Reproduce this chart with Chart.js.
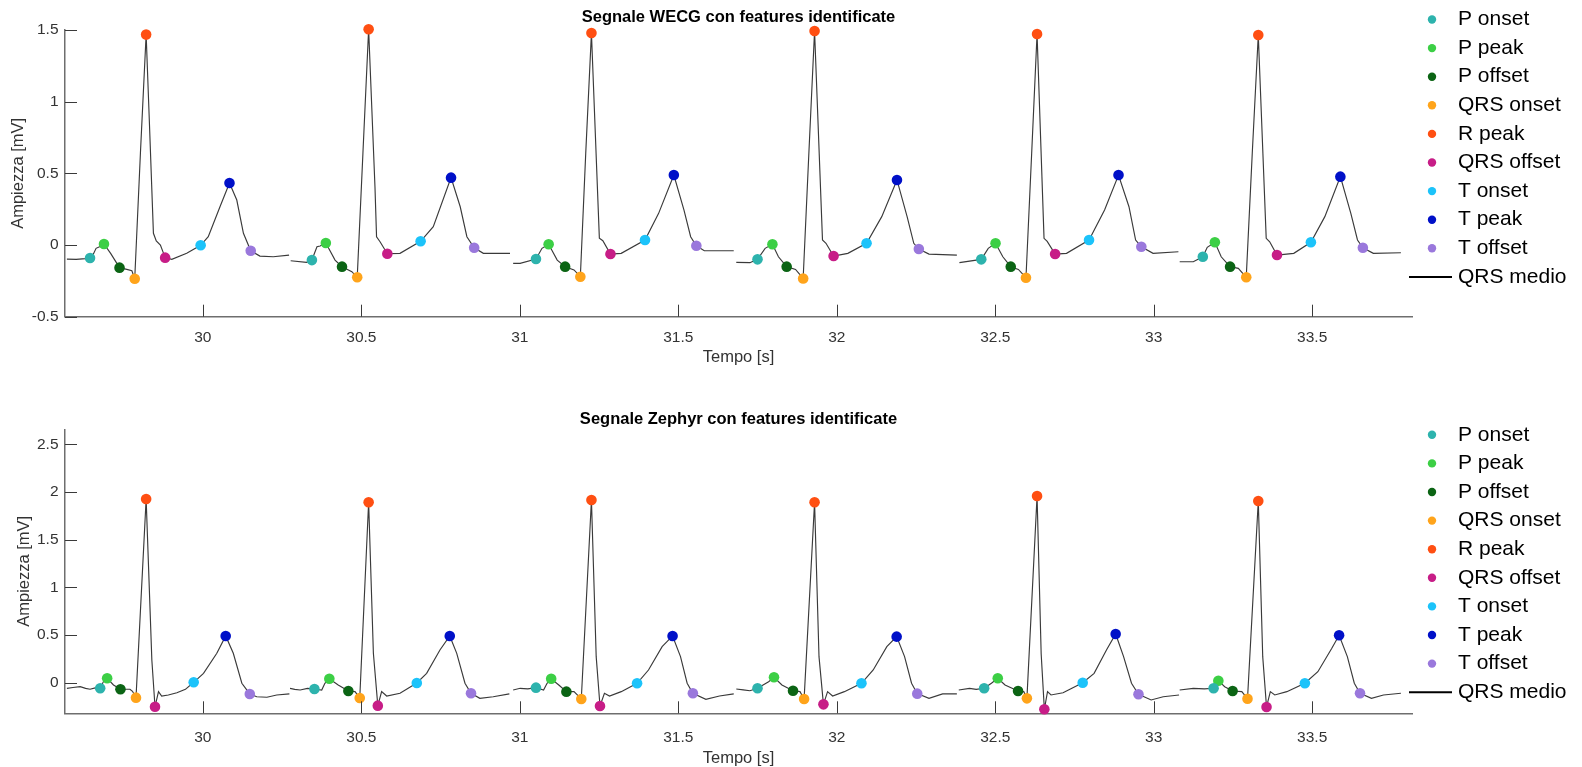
<!DOCTYPE html>
<html><head><meta charset="utf-8">
<script src="https://cdn.jsdelivr.net/npm/chart.js@4.4.1/dist/chart.umd.min.js"></script>
<style>
html,body{margin:0;padding:0;background:#fff;overflow:hidden;width:1582px;height:767px;}
#c1{position:absolute;left:0;top:0;}
#c2{position:absolute;left:0;top:380px;}
</style></head><body>
<canvas id="c1" width="1582" height="380"></canvas>
<canvas id="c2" width="1582" height="387"></canvas>
<script>
// ---------- axis ticks ----------
const xTickValues = [30, 30.5, 31, 31.5, 32, 32.5, 33, 33.5];
const xTickLabels = ['30', '30.5', '31', '31.5', '32', '32.5', '33', '33.5'];
const wecgYTickValues = [-0.5, 0, 0.5, 1, 1.5];
const wecgYTickLabels = ['-0.5', '0', '0.5', '1', '1.5'];
const zephyrYTickValues = [0, 0.5, 1, 1.5, 2, 2.5];
const zephyrYTickLabels = ['0', '0.5', '1', '1.5', '2', '2.5'];

const featureLabels = ['P onset', 'P peak', 'P offset', 'QRS onset', 'R peak', 'QRS offset', 'T onset', 'T peak', 'T offset'];
const featureColors = ['#2db3ad', '#3ccf45', '#0b6414', '#ffa41b', '#ff4f12', '#c71d87', '#1cc3fa', '#0010c8', '#9a78dc'];
const lineLabel = 'QRS medio';

// ---------- WECG: QRS medio segments [t, mV] ----------
const wecgBeat1 = [[29.571,-0.098],[29.600,-0.100],[29.630,-0.095],[29.644,-0.091],[29.655,-0.060],[29.663,-0.023],[29.674,-0.012],[29.688,0.007],[29.709,-0.058],[29.737,-0.158],[29.760,-0.170],[29.776,-0.179],[29.785,-0.235],[29.803,0.642],[29.821,1.468],[29.831,0.872],[29.844,0.082],[29.853,0.028],[29.866,0.000],[29.881,-0.088],[29.902,-0.100],[29.949,-0.058],[29.993,-0.002],[30.017,0.058],[30.054,0.267],[30.084,0.433],[30.107,0.314],[30.128,0.082],[30.151,-0.040],[30.180,-0.077],[30.222,-0.082],[30.272,-0.070]];
const wecgBeat2 = [[30.277,-0.110],[30.327,-0.121],[30.344,-0.105],[30.360,-0.012],[30.370,-0.007],[30.388,0.014],[30.417,-0.105],[30.439,-0.151],[30.470,-0.186],[30.487,-0.225],[30.505,0.640],[30.523,1.505],[30.543,0.407],[30.548,0.058],[30.559,0.023],[30.582,-0.061],[30.622,-0.058],[30.687,0.026],[30.727,0.128],[30.783,0.470],[30.812,0.267],[30.833,0.058],[30.856,-0.019],[30.885,-0.058],[30.969,-0.058]];
const wecgBeat3 = [[30.979,-0.128],[31.001,-0.128],[31.051,-0.098],[31.070,-0.023],[31.091,0.005],[31.118,-0.105],[31.143,-0.151],[31.171,-0.174],[31.191,-0.221],[31.208,0.640],[31.226,1.479],[31.251,0.047],[31.262,0.030],[31.286,-0.063],[31.320,-0.058],[31.395,0.035],[31.438,0.221],[31.486,0.488],[31.518,0.244],[31.539,0.058],[31.557,-0.005],[31.582,-0.040],[31.675,-0.040]];
const wecgBeat4 = [[31.683,-0.121],[31.726,-0.123],[31.750,-0.100],[31.774,-0.023],[31.797,0.005],[31.816,-0.082],[31.842,-0.151],[31.870,-0.170],[31.894,-0.233],[31.912,0.640],[31.930,1.493],[31.955,0.035],[31.966,0.012],[31.990,-0.077],[32.035,-0.058],[32.094,0.012],[32.142,0.198],[32.190,0.454],[32.222,0.198],[32.243,0.012],[32.259,-0.028],[32.291,-0.063],[32.379,-0.070]];
const wecgBeat5 = [[32.387,-0.123],[32.456,-0.100],[32.478,-0.023],[32.501,0.012],[32.524,-0.082],[32.549,-0.151],[32.573,-0.170],[32.597,-0.228],[32.615,0.640],[32.632,1.472],[32.654,0.047],[32.664,0.025],[32.689,-0.063],[32.725,-0.058],[32.796,0.035],[32.845,0.244],[32.889,0.488],[32.922,0.267],[32.943,0.035],[32.961,-0.012],[32.998,-0.058],[33.078,-0.047]];
const wecgBeat6 = [[33.082,-0.117],[33.125,-0.117],[33.155,-0.082],[33.169,-0.016],[33.193,0.019],[33.213,-0.082],[33.241,-0.151],[33.267,-0.163],[33.292,-0.225],[33.311,0.640],[33.330,1.465],[33.355,0.047],[33.366,0.023],[33.389,-0.070],[33.442,-0.058],[33.496,0.019],[33.540,0.198],[33.589,0.477],[33.622,0.221],[33.643,0.035],[33.660,-0.019],[33.693,-0.058],[33.780,-0.054]];

// ---------- WECG: features [t, mV] ----------
const wecgPOnset   = [[29.644,-0.091],[30.344,-0.105],[31.051,-0.098],[31.750,-0.100],[32.456,-0.100],[33.155,-0.082]];
const wecgPPeak    = [[29.688,0.007],[30.388,0.014],[31.091,0.005],[31.797,0.005],[32.501,0.012],[33.193,0.019]];
const wecgPOffset  = [[29.737,-0.158],[30.439,-0.151],[31.143,-0.151],[31.842,-0.151],[32.549,-0.151],[33.241,-0.151]];
const wecgQRSOnset = [[29.785,-0.235],[30.487,-0.225],[31.191,-0.221],[31.894,-0.233],[32.597,-0.228],[33.292,-0.225]];
const wecgRPeak    = [[29.821,1.468],[30.523,1.505],[31.226,1.479],[31.930,1.493],[32.632,1.472],[33.330,1.465]];
const wecgQRSOffset= [[29.881,-0.088],[30.582,-0.061],[31.286,-0.063],[31.990,-0.077],[32.689,-0.063],[33.389,-0.070]];
const wecgTOnset   = [[29.993,-0.002],[30.687,0.026],[31.395,0.035],[32.094,0.012],[32.796,0.035],[33.496,0.019]];
const wecgTPeak    = [[30.084,0.433],[30.783,0.470],[31.486,0.488],[32.190,0.454],[32.889,0.488],[33.589,0.477]];
const wecgTOffset  = [[30.151,-0.040],[30.856,-0.019],[31.557,-0.005],[32.259,-0.028],[32.961,-0.012],[33.660,-0.019]];

// ---------- Zephyr: QRS medio segments [t, mV] ----------
const zephyrBeat1 = [[29.571,-0.059],[29.590,-0.050],[29.613,-0.042],[29.630,-0.060],[29.644,-0.069],[29.660,-0.055],[29.676,-0.059],[29.686,0.010],[29.698,0.046],[29.718,-0.024],[29.740,-0.069],[29.770,-0.069],[29.778,-0.090],[29.789,-0.157],[29.821,1.926],[29.839,0.238],[29.849,-0.252],[29.860,-0.094],[29.870,-0.140],[29.891,-0.129],[29.918,-0.105],[29.945,-0.070],[29.971,0.004],[30.002,0.098],[30.044,0.308],[30.072,0.490],[30.096,0.308],[30.123,-0.006],[30.148,-0.118],[30.170,-0.147],[30.202,-0.153],[30.233,-0.129],[30.273,-0.118]];
const zephyrBeat2 = [[30.275,-0.059],[30.290,-0.070],[30.307,-0.077],[30.330,-0.060],[30.352,-0.066],[30.375,-0.077],[30.385,-0.006],[30.399,0.042],[30.427,-0.024],[30.459,-0.087],[30.480,-0.094],[30.495,-0.160],[30.523,1.892],[30.538,0.308],[30.552,-0.241],[30.564,-0.094],[30.580,-0.140],[30.622,-0.111],[30.675,-0.003],[30.706,0.098],[30.748,0.343],[30.779,0.490],[30.801,0.308],[30.827,-0.006],[30.846,-0.111],[30.874,-0.164],[30.916,-0.147],[30.967,-0.118]];
const zephyrBeat3 = [[30.979,-0.077],[31.001,-0.059],[31.025,-0.065],[31.051,-0.052],[31.075,-0.077],[31.086,-0.006],[31.099,0.042],[31.123,-0.024],[31.147,-0.094],[31.171,-0.094],[31.194,-0.171],[31.226,1.916],[31.241,0.273],[31.253,-0.244],[31.267,-0.111],[31.283,-0.140],[31.320,-0.094],[31.370,-0.006],[31.406,0.133],[31.449,0.378],[31.482,0.490],[31.507,0.273],[31.528,-0.006],[31.546,-0.111],[31.587,-0.174],[31.630,-0.140],[31.675,-0.118]];
const zephyrBeat4 = [[31.683,-0.066],[31.705,-0.075],[31.726,-0.084],[31.750,-0.059],[31.785,0.010],[31.802,0.057],[31.827,-0.024],[31.862,-0.084],[31.884,-0.094],[31.897,-0.171],[31.930,1.892],[31.944,0.273],[31.958,-0.227],[31.971,-0.094],[31.987,-0.140],[32.024,-0.094],[32.078,-0.006],[32.115,0.133],[32.158,0.378],[32.189,0.483],[32.214,0.273],[32.236,-0.006],[32.254,-0.115],[32.291,-0.164],[32.334,-0.118],[32.379,-0.118]];
const zephyrBeat5 = [[32.385,-0.077],[32.419,-0.059],[32.440,-0.070],[32.465,-0.059],[32.488,-0.006],[32.508,0.046],[32.531,-0.024],[32.572,-0.087],[32.590,-0.094],[32.600,-0.164],[32.632,1.958],[32.645,0.300],[32.655,-0.279],[32.665,-0.094],[32.676,-0.129],[32.714,-0.105],[32.776,0.000],[32.812,0.098],[32.851,0.343],[32.880,0.511],[32.905,0.273],[32.930,-0.006],[32.952,-0.122],[32.992,-0.181],[33.030,-0.147],[33.080,-0.129]];
const zephyrBeat6 = [[33.082,-0.077],[33.125,-0.059],[33.160,-0.065],[33.189,-0.059],[33.204,0.021],[33.224,-0.042],[33.249,-0.087],[33.278,-0.094],[33.296,-0.168],[33.330,1.905],[33.344,0.273],[33.356,-0.255],[33.368,-0.094],[33.382,-0.129],[33.420,-0.094],[33.477,-0.006],[33.518,0.115],[33.562,0.361],[33.585,0.497],[33.611,0.273],[33.633,-0.006],[33.651,-0.111],[33.687,-0.164],[33.725,-0.129],[33.780,-0.111]];

// ---------- Zephyr: features [t, mV] ----------
const zephyrPOnset   = [[29.676,-0.059],[30.352,-0.066],[31.051,-0.052],[31.750,-0.059],[32.465,-0.059],[33.189,-0.059]];
const zephyrPPeak    = [[29.698,0.046],[30.399,0.042],[31.099,0.042],[31.802,0.057],[32.508,0.046],[33.204,0.021]];
const zephyrPOffset  = [[29.740,-0.069],[30.459,-0.087],[31.147,-0.094],[31.862,-0.084],[32.572,-0.087],[33.249,-0.087]];
const zephyrQRSOnset = [[29.789,-0.157],[30.495,-0.160],[31.194,-0.171],[31.897,-0.171],[32.600,-0.164],[33.296,-0.168]];
const zephyrRPeak    = [[29.821,1.926],[30.523,1.892],[31.226,1.916],[31.930,1.892],[32.632,1.958],[33.330,1.905]];
const zephyrQRSOffset= [[29.849,-0.252],[30.552,-0.241],[31.253,-0.244],[31.958,-0.227],[32.655,-0.279],[33.356,-0.255]];
const zephyrTOnset   = [[29.971,0.004],[30.675,-0.003],[31.370,-0.006],[32.078,-0.006],[32.776,0.000],[33.477,-0.006]];
const zephyrTPeak    = [[30.072,0.490],[30.779,0.490],[31.482,0.490],[32.189,0.483],[32.880,0.511],[33.585,0.497]];
const zephyrTOffset  = [[30.148,-0.118],[30.846,-0.111],[31.546,-0.111],[32.254,-0.115],[32.952,-0.122],[33.651,-0.111]];

// ---------- build ----------
const FONT = '"Liberation Sans", Arial, Helvetica, sans-serif';
const toXY = arr => arr.map(p => ({x: p[0], y: p[1]}));

function buildDatasets(features, beats) {
  const ds = features.map((f, i) => ({
    label: featureLabels[i], data: toXY(f), showLine: false,
    pointRadius: 5.3, pointHoverRadius: 5.3, pointBorderWidth: 0,
    pointBackgroundColor: featureColors[i], backgroundColor: featureColors[i], borderColor: featureColors[i],
    clip: false
  }));
  beats.forEach(b => ds.push({
    label: lineLabel, data: toXY(b), showLine: true, borderColor: '#3a3a3a', borderWidth: 1.15,
    pointRadius: 0, tension: 0, clip: false, fill: false
  }));
  return ds;
}

const inwardTicks = {
  id: 'inwardTicks',
  afterDatasetsDraw(chart) {
    const ctx = chart.ctx, a = chart.chartArea, xs = chart.scales.x, ys = chart.scales.y;
    ctx.save();
    ctx.strokeStyle = '#3a3a3a'; ctx.lineWidth = 1;
    ctx.beginPath();
    xs.ticks.forEach(t => { const px = Math.round(xs.getPixelForValue(t.value)) + 0.5; ctx.moveTo(px, a.bottom); ctx.lineTo(px, a.bottom - 12); });
    ys.ticks.forEach(t => { const py = Math.round(ys.getPixelForValue(t.value)) + 0.5; ctx.moveTo(a.left, py); ctx.lineTo(a.left + 12, py); });
    ctx.stroke();
    ctx.restore();
  }
};

const featLegend = {
  id: 'featLegend',
  afterDraw(chart, args, opts) {
    const ctx = chart.ctx;
    const seen = new Set(); let row = 0;
    ctx.save();
    ctx.font = '21px ' + FONT;
    ctx.textBaseline = 'middle'; ctx.textAlign = 'left';
    chart.data.datasets.forEach(ds => {
      if (seen.has(ds.label)) return; seen.add(ds.label);
      const y = opts.y0 + row * opts.dy;
      if (ds.showLine) {
        ctx.strokeStyle = '#000'; ctx.lineWidth = 2;
        ctx.beginPath(); ctx.moveTo(opts.lineX0, y); ctx.lineTo(opts.lineX1, y); ctx.stroke();
      } else {
        ctx.fillStyle = ds.pointBackgroundColor;
        ctx.beginPath(); ctx.arc(opts.markerX, y, 4.2, 0, Math.PI * 2); ctx.fill();
      }
      ctx.fillStyle = '#000';
      ctx.fillText(ds.label, opts.textX, y);
      row++;
    });
    ctx.restore();
  }
};

function makeChart(canvasId, cfg) {
  return new Chart(document.getElementById(canvasId), {
    type: 'scatter',
    data: {datasets: buildDatasets(cfg.features, cfg.beats)},
    plugins: [inwardTicks, featLegend],
    options: {
      responsive: false, animation: false, devicePixelRatio: 1, events: [],
      layout: {padding: {left: 0, right: 170, top: 0, bottom: cfg.padBottom}},
      plugins: {
        legend: {display: false}, tooltip: {enabled: false},
        title: {display: true, text: cfg.title, fullSize: false, color: '#000',
          font: {family: FONT, size: 16.5, weight: 'bold'},
          padding: {top: cfg.titleTop, bottom: cfg.titleBottom}},
        featLegend: {markerX: 1432, textX: 1458, lineX0: 1409, lineX1: 1452, y0: cfg.legendY0, dy: 28.6}
      },
      scales: {
        x: {
          type: 'linear', position: 'bottom', min: 29.565, max: 33.815,
          afterFit(s) { s.height = cfg.xH; },
          afterBuildTicks(s) { s.ticks = xTickValues.map(v => ({value: v})); },
          ticks: {callback: (v, i) => xTickLabels[i], padding: cfg.xTickPad, color: '#333', autoSkip: false, maxRotation: 0,
            font: {family: FONT, size: 15.5}},
          grid: {display: true, drawOnChartArea: false, drawTicks: false},
          border: {display: true, color: '#6e6e6e', width: 1.5},
          title: {display: true, text: 'Tempo [s]', color: '#333', font: {family: FONT, size: 16.5},
            padding: {top: 0, bottom: cfg.xTitleBottom}}
        },
        y: {
          type: 'linear', position: 'left', min: cfg.yMin, max: cfg.yMax,
          afterFit(s) { s.width = 65; },
          afterBuildTicks(s) { s.ticks = cfg.yTicks.map(v => ({value: v})); },
          ticks: {callback: (v, i) => cfg.yLabels[i], padding: 6.5, color: '#333', autoSkip: false,
            font: {family: FONT, size: 15.5}},
          grid: {display: true, drawOnChartArea: false, drawTicks: false},
          border: {display: true, color: '#6e6e6e', width: 1.5},
          title: {display: true, text: 'Ampiezza [mV]', color: '#333', font: {family: FONT, size: 16.5},
            padding: {top: cfg.yTitlePad, bottom: 0}}
        }
      }
    }
  });
}

makeChart('c1', {
  title: 'Segnale WECG con features identificate',
  features: [wecgPOnset, wecgPPeak, wecgPOffset, wecgQRSOnset, wecgRPeak, wecgQRSOffset, wecgTOnset, wecgTPeak, wecgTOffset],
  beats: [wecgBeat1, wecgBeat2, wecgBeat3, wecgBeat4, wecgBeat5, wecgBeat6],
  yMin: -0.5, yMax: 1.5, yTicks: wecgYTickValues, yLabels: wecgYTickLabels,
  titleTop: 7.6, titleBottom: 2.6, padBottom: 8, xH: 55.3, xTitleBottom: 4.4, xTickPad: 12, yTitlePad: 9, legendY0: 19.5
});

makeChart('c2', {
  title: 'Segnale Zephyr con features identificate',
  features: [zephyrPOnset, zephyrPPeak, zephyrPOffset, zephyrQRSOnset, zephyrRPeak, zephyrQRSOffset, zephyrTOnset, zephyrTPeak, zephyrTOffset],
  beats: [zephyrBeat1, zephyrBeat2, zephyrBeat3, zephyrBeat4, zephyrBeat5, zephyrBeat6],
  yMin: -0.321, yMax: 2.657, yTicks: zephyrYTickValues, yLabels: zephyrYTickLabels,
  titleTop: 29.5, titleBottom: 0, padBottom: 2, xH: 51.7, xTitleBottom: -3.5, xTickPad: 15, yTitlePad: 14.4, legendY0: 54.8
});
</script></body></html>
